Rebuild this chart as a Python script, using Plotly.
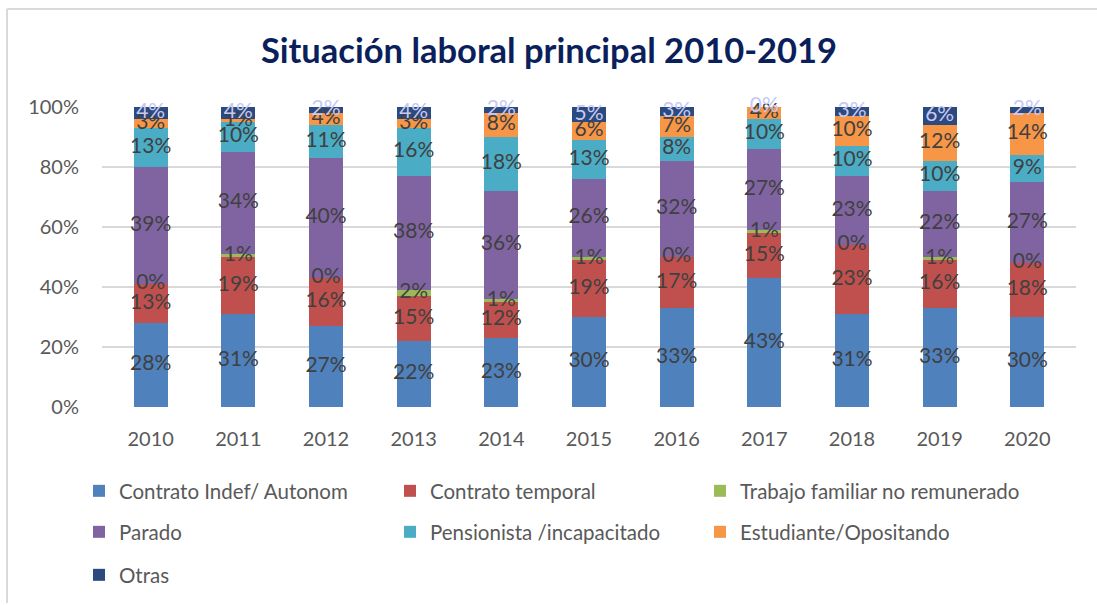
import plotly.graph_objects as go

years = ["2010", "2011", "2012", "2013", "2014", "2015", "2016", "2017", "2018", "2019", "2020"]

series_names = [
    "Contrato Indef/ Autonom",
    "Contrato temporal",
    "Trabajo familiar no remunerado",
    "Parado",
    "Pensionista /incapacitado",
    "Estudiante/Opositando",
    "Otras",
]

indef = [28, 31, 27, 22, 23, 30, 33, 43, 31, 33, 30]
temporal = [13, 19, 16, 15, 12, 19, 17, 15, 23, 16, 18]
familiar = [0, 1, 0, 2, 1, 1, 0, 1, 0, 1, 0]
parado = [39, 34, 40, 38, 36, 26, 32, 27, 23, 22, 27]
pensionista = [13, 10, 11, 16, 18, 13, 8, 10, 10, 10, 9]
estudiante = [3, 1, 4, 3, 8, 6, 7, 4, 10, 12, 14]
otras = [4, 4, 2, 4, 2, 5, 3, 0, 3, 6, 2]

series_values = [indef, temporal, familiar, parado, pensionista, estudiante, otras]
colors = ["#4F81BD", "#C0504D", "#9BBB59", "#8064A2", "#4BACC6", "#F79646", "#2A4A80"]
label_colors = ["#404040"] * 6 + ["#C8C9F2"]

FONT = "Lato, 'Open Sans', sans-serif"

fig = go.Figure()

# bars
for i, (name, vals) in enumerate(zip(series_names, series_values)):
    fig.add_trace(go.Bar(
        x=years, y=[v / 100 for v in vals], name=name,
        marker=dict(color=colors[i], line=dict(width=0)),
        legend="legend" if i == 0 else f"legend{i+1}",
        hoverinfo="x+y+name",
    ))

# data labels at segment midpoints
cum = [0.0] * len(years)
for i, vals in enumerate(series_values):
    mids = [(cum[j] + vals[j] / 200) for j in range(len(years))]
    cum = [cum[j] + vals[j] / 100 for j in range(len(years))]
    fig.add_trace(go.Scatter(
        x=years, y=mids, mode="text",
        text=[f"{v}%" for v in vals],
        textfont=dict(family=FONT, size=21, color=label_colors[i]),
        showlegend=False, hoverinfo="skip", cliponaxis=False,
    ))

W, H = 1097, 605
L, R, T, B = 102, 21, 107, 198
pw, ph = W - L - R, H - T - B

# legend positions (pixels): (left x, row center y)
leg_pos = [(79, 491), (390, 491), (700, 491),
           (79, 532), (390, 532), (700, 532),
           (79, 575)]
legends = {}
for i, (lx, ly) in enumerate(leg_pos):
    key = "legend" if i == 0 else f"legend{i+1}"
    legends[key] = dict(
        xref="container", yref="container",
        x=lx / W, y=1 - ly / H, xanchor="left", yanchor="middle",
        orientation="h", bgcolor="rgba(0,0,0,0)",
        font=dict(family=FONT, size=20.5, color="#595959"),
        itemclick=False, itemdoubleclick=False,
    )

def px_to_paper_x(px):
    return (px - L) / pw

def px_to_paper_y(py):
    return (H - B - py) / ph

border = dict(color="#D9D9D9", width=2)

fig.update_layout(
    width=W, height=H,
    margin=dict(l=L, r=R, t=T, b=B),
    paper_bgcolor="white", plot_bgcolor="white",
    barmode="stack", bargap=0.615,
    title=dict(
        text="<b>Situación laboral principal 2010-2019</b>",
        x=549 / W, xanchor="center", xref="container",
        y=1 - 51 / H, yanchor="middle", yref="container",
        font=dict(family=FONT, size=34.5, color="#0B1F5C"),
    ),
    xaxis=dict(
        type="category", showgrid=False, showline=False, zeroline=False,
        ticks="", tickfont=dict(family=FONT, size=20, color="#595959"),
        ticklabelstandoff=18,
    ),
    yaxis=dict(
        range=[0, 1], dtick=0.2, tickformat=".0%",
        showgrid=True, gridcolor="#D9D9D9", gridwidth=2,
        zeroline=False, showline=False, ticks="",
        tickfont=dict(family=FONT, size=20, color="#595959"),
        ticklabelstandoff=22,
    ),
    shapes=[
        dict(type="line", xref="paper", yref="paper",
             x0=px_to_paper_x(7), x1=px_to_paper_x(1100),
             y0=px_to_paper_y(9), y1=px_to_paper_y(9), line=border, layer="below"),
        dict(type="line", xref="paper", yref="paper",
             x0=px_to_paper_x(7), x1=px_to_paper_x(7),
             y0=px_to_paper_y(9), y1=px_to_paper_y(603), line=border, layer="below"),
    ],
    **legends,
)

fig.write_html(
    "out.html",
    config={"displayModeBar": False},
    post_script="document.body.style.margin='0';document.body.style.overflow='hidden';",
)
